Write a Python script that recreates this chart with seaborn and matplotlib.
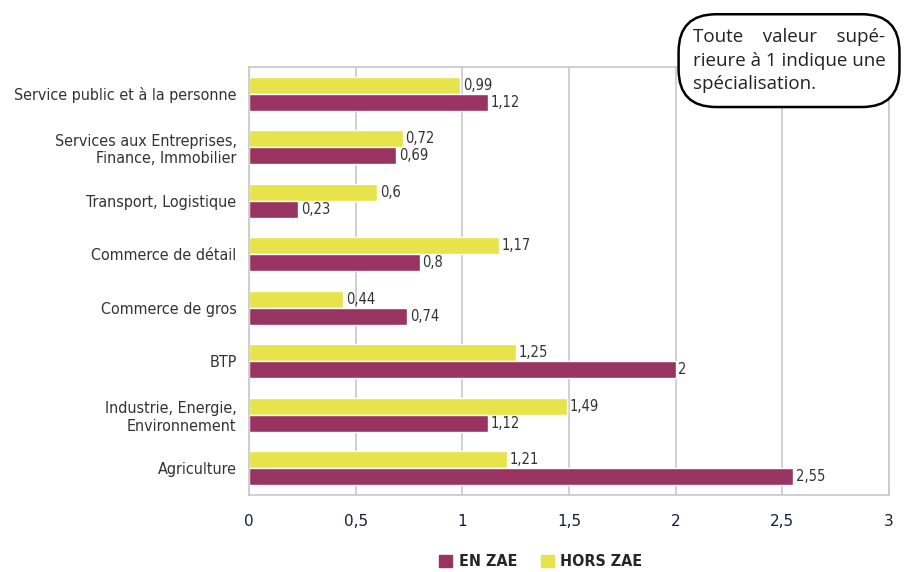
import pandas as pd
import seaborn as sns
from matplotlib import pyplot as plt
from matplotlib.patches import Patch
from matplotlib.ticker import FixedLocator

# données
secteurs = ['Service public et à la personne',
            'Services aux Entreprises,\nFinance, Immobilier',
            'Transport, Logistique',
            'Commerce de détail',
            'Commerce de gros',
            'BTP',
            'Industrie, Energie,\nEnvironnement',
            'Agriculture']
hors_zae = [0.99, 0.72, 0.6, 1.17, 0.44, 1.25, 1.49, 1.21]
en_zae = [1.12, 0.69, 0.23, 0.8, 0.74, 2, 1.12, 2.55]
x_ticks = [0, 0.5, 1, 1.5, 2, 2.5, 3]

df = pd.DataFrame({
    'secteur': secteurs * 2,
    'valeur': hors_zae + en_zae,
    'zone': ['HORS ZAE'] * len(secteurs) + ['EN ZAE'] * len(secteurs),
})

sns.set_style('white')
plt.rcParams['font.family'] = ['DejaVu Sans']

couleurs = {'HORS ZAE': '#e6e44a', 'EN ZAE': '#993462'}

fig = plt.figure(figsize=(9.09, 5.72), dpi=100)
ax = fig.add_axes([0.274, 0.1346, 0.704, 0.748])

sns.barplot(data=df, x='valeur', y='secteur', hue='zone', order=secteurs,
            hue_order=['HORS ZAE', 'EN ZAE'], palette=couleurs, orient='h',
            width=0.64, saturation=1, legend=False, ax=ax)

# étiquettes de valeurs
for cont in ax.containers:
    labels = ['{:g}'.format(b.get_width()).replace('.', ',') for b in cont]
    ax.bar_label(cont, labels=labels, padding=2, fontsize=10.5, color='#333333',
                 fontstretch='condensed')

ax.set_xlim(0, 3)
ax.set_ylim(len(secteurs) - 0.5, -0.5)
ax.set_xticks(x_ticks)
ax.set_xticklabels(['{:g}'.format(t).replace('.', ',') for t in x_ticks],
                   fontsize=11, color='#1c1c40')
ax.set_yticklabels(secteurs, fontsize=11.5, color='#333333', linespacing=1.2,
                   fontstretch='condensed')
ax.yaxis.set_minor_locator(FixedLocator([i - 0.5 for i in range(len(secteurs) + 1)]))
ax.tick_params(axis='y', which='major', length=0, pad=9)
ax.tick_params(axis='y', which='minor', length=5, color='#b0b0b0', width=1.2)
ax.tick_params(axis='x', length=6, color='#b0b0b0', width=1.2, pad=8)
ax.set_xlabel('')
ax.set_ylabel('')
ax.grid(axis='x', color='#c8c8c8', lw=1.2)
ax.set_axisbelow(True)
for sp in ax.spines.values():
    sp.set_color('#c8c8c8')
    sp.set_linewidth(1.2)

# légende
handles = [Patch(color=couleurs['EN ZAE'], label='EN ZAE'),
           Patch(color=couleurs['HORS ZAE'], label='HORS ZAE')]
fig.legend(handles=handles, loc='center', bbox_to_anchor=(0.595, 0.018),
           ncol=2, frameon=False, handlelength=0.8, handleheight=0.8,
           handletextpad=0.4, columnspacing=1.5,
           prop={'weight': 'bold', 'size': 11.5, 'stretch': 'condensed'})

# encadré
fig.text(0.762, 0.894, 'Toute    valeur    supé-\nrieure à 1 indique une\nspécialisation.',
         fontsize=13.5, color='#222222', va='center', ha='left', linespacing=1.38,
         family=['Open Sans', 'DejaVu Sans'], zorder=5,
         bbox=dict(boxstyle='round,pad=0.75,rounding_size=2.0', fc='white',
                   ec='black', lw=1.8))

fig.savefig('out.png', dpi=100)
